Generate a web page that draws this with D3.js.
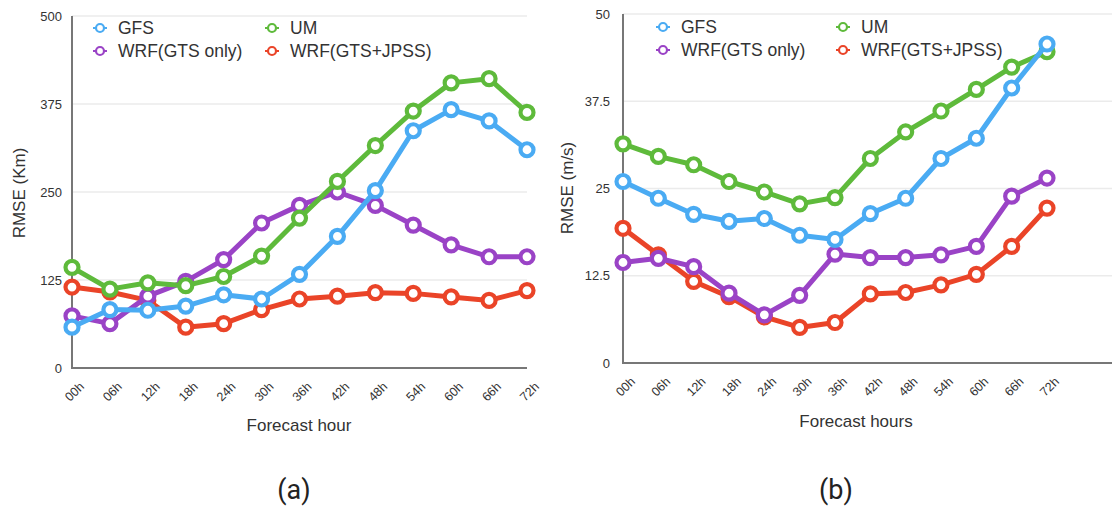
<!DOCTYPE html>
<html>
<head>
<meta charset="utf-8">
<script src="https://cdn.jsdelivr.net/npm/d3@7"></script>
<style>
  body { margin: 0; background: #fff; }
  svg { display: block; font-family: "Liberation Sans", Arial, sans-serif; }
</style>
</head>
<body>
<svg width="1112" height="509"></svg>
<script>
// forecast hours on the x axis
const HOURS = ['00h', '06h', '12h', '18h', '24h', '30h', '36h', '42h', '48h', '54h', '60h', '66h', '72h'];
const SERIES_NAMES = ['GFS', 'UM', 'WRF(GTS only)', 'WRF(GTS+JPSS)'];
const COLORS = ['#4aabf3', '#5eba3b', '#9a43c6', '#ea4428'];

// (a) track error, km
const A_TICKS = [0, 125, 250, 375, 500];
const A_GFS = [58, 83, 82, 88, 104, 98, 133, 187, 252, 337, 367, 351, 310];
const A_UM = [143, 112, 121, 117, 130, 159, 213, 265, 316, 365, 405, 411, 363];
const A_WRF_GTS = [74, 63, 102, 123, 154, 206, 231, 250, 231, 203, 175, 158, 158];
const A_WRF_JPSS = [115, 108, 96, 58, 63, 83, 98, 102, 107, 106, 101, 96, 110];

// (b) max wind error, m/s
const B_TICKS = [0, 12.5, 25, 37.5, 50];
const B_GFS = [26.0, 23.6, 21.3, 20.3, 20.7, 18.3, 17.7, 21.4, 23.6, 29.3, 32.2, 39.4, 45.7];
const B_UM = [31.4, 29.6, 28.4, 26.0, 24.5, 22.8, 23.7, 29.3, 33.1, 36.1, 39.2, 42.4, 44.6];
const B_WRF_GTS = [14.4, 15.0, 13.8, 10.0, 6.9, 9.7, 15.6, 15.1, 15.1, 15.5, 16.7, 23.9, 26.5];
const B_WRF_JPSS = [19.3, 15.5, 11.7, 9.5, 6.6, 5.1, 5.8, 9.9, 10.1, 11.2, 12.7, 16.7, 22.2];

const svg = d3.select('svg');

function drawPanel(cfg) {
    const x = d3.scalePoint().domain(HOURS).range([cfg.left, cfg.lastX]);
    const y = d3.scaleLinear().domain([0, d3.max(cfg.ticks)]).range([cfg.bottom, cfg.top]);
    const g = svg.append('g');

    // grid lines
    g.selectAll('.grid')
        .data(cfg.ticks.slice(1))
        .enter()
        .append('line')
        .attr('x1', cfg.left).attr('x2', cfg.right)
        .attr('y1', d => y(d)).attr('y2', d => y(d))
        .attr('stroke', '#ebebeb').attr('stroke-width', 1.5);

    // y axis
    const yAxis = g.append('g')
        .attr('transform', `translate(${cfg.left},0)`)
        .call(d3.axisLeft(y).tickValues(cfg.ticks).tickSize(0).tickPadding(cfg.yPad).tickFormat(d => d));
    yAxis.select('.domain').remove();
    yAxis.selectAll('text').attr('font-size', 13).attr('fill', '#333').attr('font-family', 'Liberation Sans, Arial');

    // x axis labels
    const xAxis = g.append('g')
        .attr('transform', `translate(0,${cfg.bottom})`)
        .call(d3.axisBottom(x).tickSize(0).tickFormat(d => d));
    xAxis.select('.domain').remove();
    xAxis.selectAll('text')
        .attr('font-size', 12.5).attr('fill', '#333').attr('font-family', 'Liberation Sans, Arial')
        .attr('text-anchor', 'end')
        .attr('dominant-baseline', 'middle')
        .attr('dy', 0)
        .attr('transform', 'translate(10,17) rotate(-45)')
        .attr('y', 0);

    // axis lines
    g.append('line')
        .attr('x1', cfg.left).attr('x2', cfg.left)
        .attr('y1', cfg.top).attr('y2', cfg.bottom + 1)
        .attr('stroke', '#777').attr('stroke-width', 2);
    g.append('line')
        .attr('x1', cfg.left - 1).attr('x2', cfg.right)
        .attr('y1', cfg.bottom).attr('y2', cfg.bottom)
        .attr('stroke', '#777').attr('stroke-width', 2);

    // series, drawn red -> purple -> green -> blue
    const order = [3, 2, 1, 0];
    const line = d3.line().x((d, i) => x(HOURS[i])).y(d => y(d));
    order.forEach(k => {
        const vals = cfg.series[k];
        g.append('path')
            .datum(vals)
            .attr('d', line)
            .attr('fill', 'none')
            .attr('stroke', COLORS[k])
            .attr('stroke-width', 5)
            .attr('stroke-linejoin', 'round');
        g.selectAll('.pt' + k)
            .data(vals)
            .enter()
            .append('circle')
            .attr('cx', (d, i) => x(HOURS[i]))
            .attr('cy', d => y(d))
            .attr('r', 6.5)
            .attr('fill', '#fff')
            .attr('stroke', COLORS[k])
            .attr('stroke-width', 4.2);
    });

    // legend
    const legPos = [[0, 0], [1, 0], [0, 1], [1, 1]];
    SERIES_NAMES.forEach((name, k) => {
        const lx = cfg.legX[legPos[k][0]], ly = cfg.legY[legPos[k][1]];
        g.append('line')
            .attr('x1', lx - 7).attr('x2', lx + 7)
            .attr('y1', ly).attr('y2', ly)
            .attr('stroke', COLORS[k]).attr('stroke-width', 2);
        g.append('circle')
            .attr('cx', lx).attr('cy', ly).attr('r', 4)
            .attr('fill', '#fff').attr('stroke', COLORS[k]).attr('stroke-width', 2.2);
        g.append('text')
            .attr('x', lx + 18).attr('y', ly)
            .attr('dy', '0.35em')
            .attr('font-size', 17.5).attr('fill', '#333')
            .text(name);
    });

    // titles
    g.append('text')
        .attr('transform', `translate(${cfg.yTitleX},${cfg.yTitleY}) rotate(-90)`)
        .attr('text-anchor', 'middle')
        .attr('font-size', 17).attr('fill', '#333')
        .text(cfg.yTitle);
    g.append('text')
        .attr('x', cfg.xTitleX).attr('y', cfg.xTitleY)
        .attr('text-anchor', 'middle')
        .attr('font-size', 17).attr('fill', '#333')
        .text(cfg.xTitle);
    g.append('text')
        .attr('x', cfg.capX).attr('y', 499)
        .attr('text-anchor', 'middle')
        .attr('font-family', 'Roboto, sans-serif')
        .attr('font-size', 27).attr('fill', '#222')
        .text(cfg.caption);
}

drawPanel({
    left: 72, lastX: 527, right: 527, top: 16, bottom: 368, yPad: 10,
    ticks: A_TICKS,
    series: [A_GFS, A_UM, A_WRF_GTS, A_WRF_JPSS],
    legX: [100, 272], legY: [28, 51],
    yTitle: 'RMSE (Km)', yTitleX: 25, yTitleY: 193,
    xTitle: 'Forecast hour', xTitleX: 299, xTitleY: 431,
    caption: '(a)', capX: 294
});

drawPanel({
    left: 623, lastX: 1047, right: 1112, top: 14, bottom: 363, yPad: 13,
    ticks: B_TICKS,
    series: [B_GFS, B_UM, B_WRF_GTS, B_WRF_JPSS],
    legX: [663, 843], legY: [27, 50],
    yTitle: 'RMSE (m/s)', yTitleX: 573, yTitleY: 188,
    xTitle: 'Forecast hours', xTitleX: 856, xTitleY: 427,
    caption: '(b)', capX: 836
});
</script>
</body>
</html>
